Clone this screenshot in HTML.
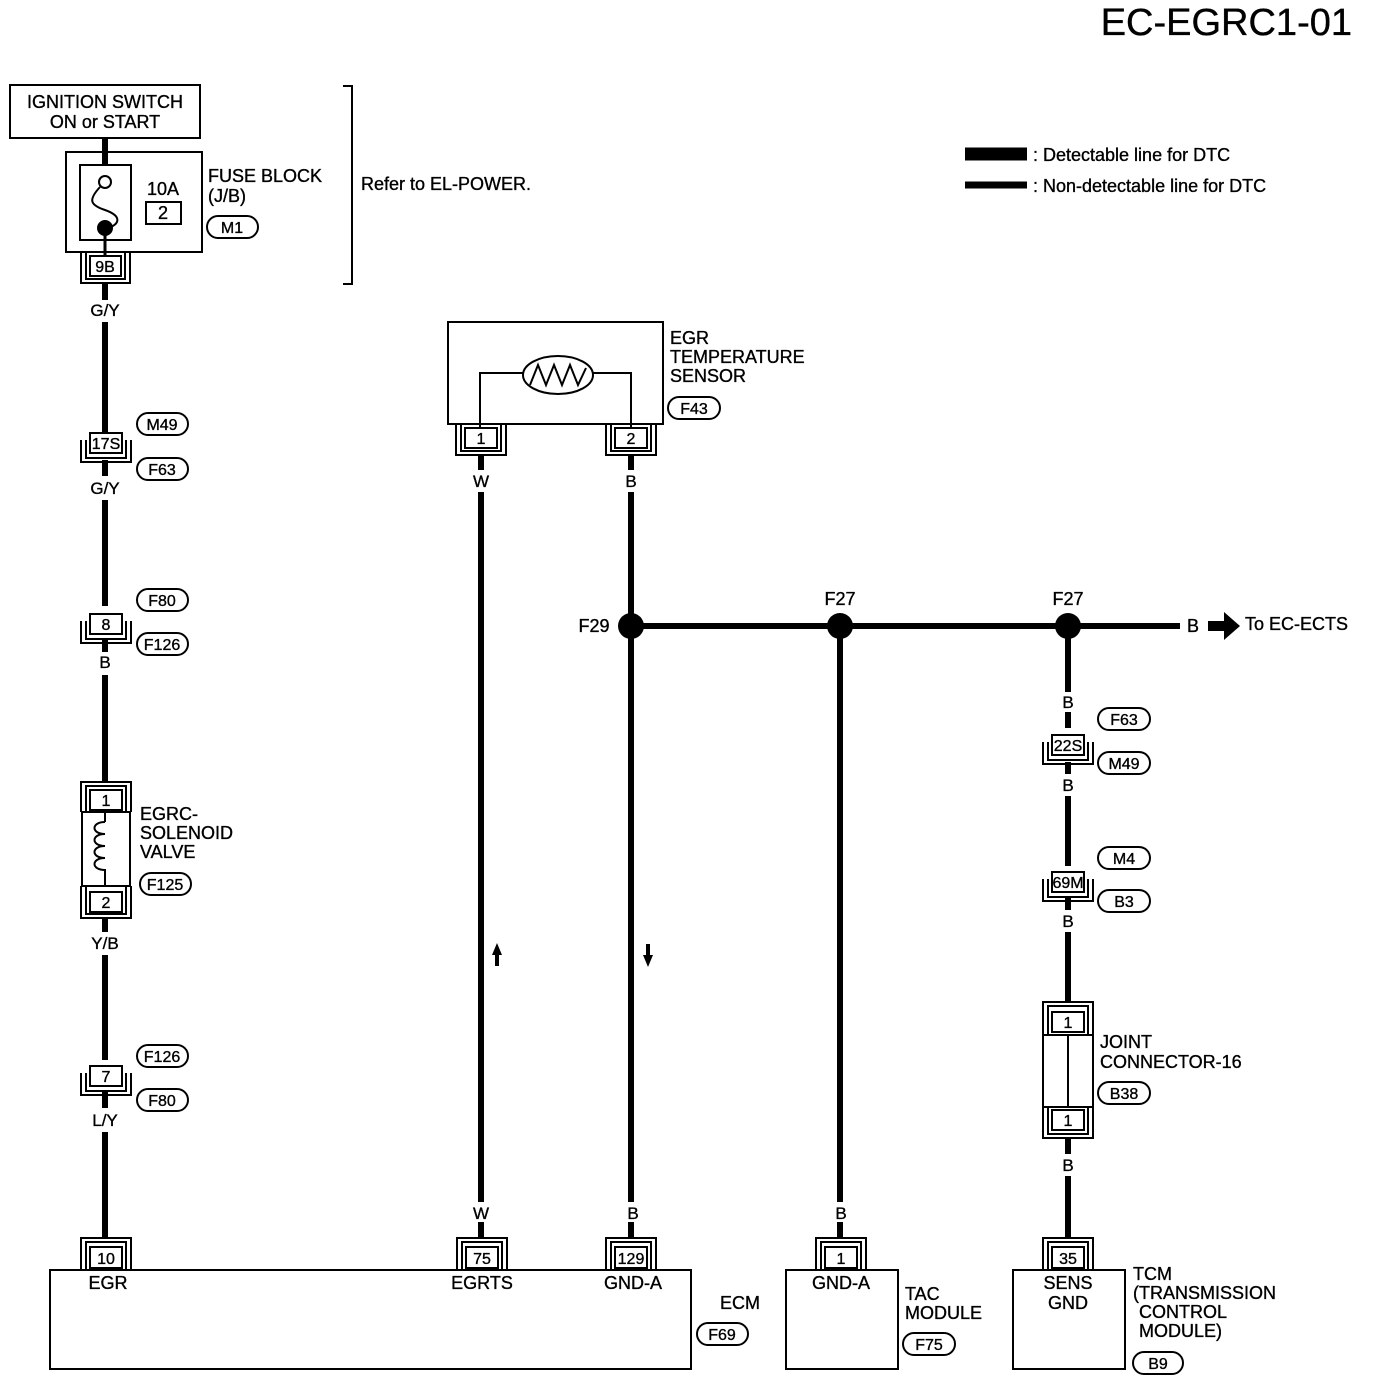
<!DOCTYPE html>
<html><head><meta charset="utf-8"><style>
html,body{margin:0;padding:0;background:#fff}
svg{display:block}
text{font-family:"Liberation Sans",sans-serif;fill:#000;stroke:#000;stroke-width:0.35}
</style></head><body>
<svg width="1376" height="1384" viewBox="0 0 1376 1384" xmlns="http://www.w3.org/2000/svg">
<g fill="none" stroke="#000" stroke-width="2">
<g stroke-width="6">
<line x1="105" y1="138" x2="105" y2="165"/>
<line x1="105" y1="283" x2="105" y2="300"/>
<line x1="105" y1="322" x2="105" y2="433"/>
<line x1="105" y1="460" x2="105" y2="476"/>
<line x1="105" y1="500" x2="105" y2="606"/>
<line x1="105" y1="640" x2="105" y2="652"/>
<line x1="105" y1="675" x2="105" y2="782"/>
<line x1="105" y1="918" x2="105" y2="932"/>
<line x1="105" y1="955" x2="105" y2="1060"/>
<line x1="105" y1="1092" x2="105" y2="1108"/>
<line x1="105" y1="1132" x2="105" y2="1238"/>
<line x1="481" y1="454" x2="481" y2="470"/>
<line x1="481" y1="492" x2="481" y2="1202"/>
<line x1="481" y1="1222" x2="481" y2="1238"/>
<line x1="631" y1="454" x2="631" y2="470"/>
<line x1="631" y1="492" x2="631" y2="1202"/>
<line x1="631" y1="1222" x2="631" y2="1238"/>
<line x1="631" y1="626" x2="1180" y2="626"/>
<line x1="840" y1="626" x2="840" y2="1202"/>
<line x1="840" y1="1222" x2="840" y2="1238"/>
<line x1="1068" y1="626" x2="1068" y2="692"/>
<line x1="1068" y1="712" x2="1068" y2="728"/>
<line x1="1068" y1="762" x2="1068" y2="774"/>
<line x1="1068" y1="796" x2="1068" y2="866"/>
<line x1="1068" y1="898" x2="1068" y2="910"/>
<line x1="1068" y1="932" x2="1068" y2="1002"/>
<line x1="1068" y1="1138" x2="1068" y2="1154"/>
<line x1="1068" y1="1176" x2="1068" y2="1238"/>
</g>
<line x1="965" y1="154" x2="1027" y2="154" stroke-width="13"/>
<line x1="965" y1="185" x2="1027" y2="185" stroke-width="7"/>
<rect x="10" y="85" width="190" height="53"/>
<rect x="66" y="152" width="136" height="100"/>
<rect x="80" y="165" width="51" height="75"/>
<circle cx="105" cy="182" r="6" fill="#fff"/>
<path d="M100,187 C88,200 90,205 105,210 C122,216 120,224 108,228"/>
<circle cx="105" cy="228" r="7" fill="#000"/>
<line x1="105" y1="234" x2="105" y2="256" stroke-width="3"/>
<rect x="146" y="202" width="35" height="22"/>
<path d="M343,86 H352 V284 H343"/>
<rect x="448" y="322" width="215" height="102"/>
<path d="M480,428 V373 H523 M593,373 H631 V428"/>
<ellipse cx="558" cy="375" rx="35" ry="19"/>
<path d="M530,385 L538,365 L546,385 L554,365 L562,385 L570,365 L578,385 L586,368"/>
<rect x="82" y="812" width="48" height="74"/>
<path d="M105,812 V822 M105,878 V886"/>
<path d="M105,822 c-14,0 -14,12 0,12 c-14,0 -14,12 0,12 c-14,0 -14,12 0,12 c-14,0 -14,12 0,12 c0,0 0,6 0,8"/>
<rect x="1043" y="1035" width="50" height="72"/>
<line x1="1068" y1="1035" x2="1068" y2="1107"/>
<rect x="50" y="1270" width="641" height="99"/>
<rect x="786" y="1270" width="112" height="99"/>
<rect x="1013" y="1270" width="112" height="99"/>
<g>
<rect x="90" y="256" width="31" height="20"/><path d="M81,252 V283 H130 V252 M86,252 V279 H125 V252"/>
<rect x="90" y="433" width="32" height="20"/><path d="M81,440 V462 H131 V440 M86,440 V458 H126 V440"/>
<rect x="90" y="614" width="32" height="20"/><path d="M81,621 V643 H131 V621 M86,621 V639 H126 V621"/>
<rect x="90" y="1066" width="32" height="20"/><path d="M81,1073 V1095 H131 V1073 M86,1073 V1091 H126 V1073"/>
<rect x="90" y="892" width="32" height="20"/><path d="M81,886 V918 H131 V886 M86,886 V914 H126 V886"/>
<rect x="465" y="428" width="32" height="20"/><path d="M456,424 V455 H506 V424 M461,424 V451 H501 V424"/>
<rect x="615" y="428" width="32" height="20"/><path d="M606,424 V455 H656 V424 M611,424 V451 H651 V424"/>
<rect x="1052" y="735" width="32" height="20"/><path d="M1043,742 V764 H1093 V742 M1048,742 V760 H1088 V742"/>
<rect x="1052" y="872" width="32" height="20"/><path d="M1043,879 V901 H1093 V879 M1048,879 V897 H1088 V879"/>
<rect x="1052" y="1110" width="32" height="20"/><path d="M1043,1107 V1138 H1093 V1107 M1048,1107 V1134 H1088 V1107"/>
</g>
<g>
<rect x="90" y="790" width="32" height="20"/><path d="M81,812 V782 H131 V812 M86,812 V786 H126 V812"/>
<rect x="1052" y="1012" width="32" height="20"/><path d="M1043,1035 V1002 H1093 V1035 M1048,1035 V1006 H1088 V1035"/>
<rect x="90" y="1247" width="32" height="21"/><path d="M81,1270 V1238 H131 V1270 M86,1270 V1242 H126 V1270"/>
<rect x="466" y="1247" width="32" height="21"/><path d="M457,1270 V1238 H507 V1270 M462,1270 V1242 H502 V1270"/>
<rect x="615" y="1247" width="32" height="21"/><path d="M606,1270 V1238 H656 V1270 M611,1270 V1242 H651 V1270"/>
<rect x="825" y="1247" width="32" height="21"/><path d="M816,1270 V1238 H866 V1270 M821,1270 V1242 H861 V1270"/>
<rect x="1052" y="1247" width="32" height="21"/><path d="M1043,1270 V1238 H1093 V1270 M1048,1270 V1242 H1088 V1270"/>
</g>
<g>
<rect x="207" y="216" width="51" height="22" rx="11"/>
<rect x="137" y="413" width="51" height="22" rx="11"/>
<rect x="137" y="458" width="51" height="22" rx="11"/>
<rect x="137" y="589" width="51" height="22" rx="11"/>
<rect x="137" y="633" width="51" height="22" rx="11"/>
<rect x="140" y="873" width="51" height="22" rx="11"/>
<rect x="137" y="1045" width="51" height="22" rx="11"/>
<rect x="137" y="1089" width="51" height="22" rx="11"/>
<rect x="668" y="397" width="52" height="22" rx="11"/>
<rect x="697" y="1323" width="51" height="22" rx="11"/>
<rect x="903" y="1333" width="52" height="22" rx="11"/>
<rect x="1098" y="708" width="52" height="22" rx="11"/>
<rect x="1098" y="752" width="52" height="22" rx="11"/>
<rect x="1098" y="847" width="52" height="22" rx="11"/>
<rect x="1098" y="890" width="52" height="22" rx="11"/>
<rect x="1098" y="1082" width="52" height="22" rx="11"/>
<rect x="1133" y="1352" width="50" height="22" rx="11"/>
</g>
</g>
<g fill="#000">
<circle cx="631" cy="626" r="13"/>
<circle cx="840" cy="626" r="13"/>
<circle cx="1068" cy="626" r="13"/>
<path d="M1208,621 H1224 V612 L1240,626 L1224,640 V631 H1208 Z"/>
<path d="M497,943 L492,955 H495 V966 H499 V955 H502 Z"/>
<path d="M648,967 L643,955 H646 V944 H650 V955 H653 Z"/>
</g>
<text x="1352" y="35" font-size="38" text-anchor="end">EC-EGRC1-01</text>
<g font-size="18">
<text x="1033" y="161">: Detectable line for DTC</text>
<text x="1033" y="192">: Non-detectable line for DTC</text>
<text x="105" y="108" text-anchor="middle">IGNITION SWITCH</text>
<text x="105" y="128" text-anchor="middle">ON or START</text>
<text x="208" y="182">FUSE BLOCK</text>
<text x="208" y="202">(J/B)</text>
<text x="361" y="190">Refer to EL-POWER.</text>
<text x="163" y="195" text-anchor="middle">10A</text>
<text x="163" y="219" text-anchor="middle">2</text>
<text x="670" y="344">EGR</text>
<text x="670" y="363">TEMPERATURE</text>
<text x="670" y="382">SENSOR</text>
<text x="140" y="820">EGRC-</text>
<text x="140" y="839">SOLENOID</text>
<text x="140" y="858">VALVE</text>
<text x="1100" y="1048">JOINT</text>
<text x="1100" y="1068">CONNECTOR-16</text>
<text x="1193" y="632" text-anchor="middle">B</text>
<text x="1245" y="630">To EC-ECTS</text>
<text x="594" y="632" text-anchor="middle">F29</text>
<text x="840" y="605" text-anchor="middle">F27</text>
<text x="1068" y="605" text-anchor="middle">F27</text>
<text x="108" y="1289" text-anchor="middle">EGR</text>
<text x="482" y="1289" text-anchor="middle">EGRTS</text>
<text x="633" y="1289" text-anchor="middle">GND-A</text>
<text x="720" y="1309">ECM</text>
<text x="841" y="1289" text-anchor="middle">GND-A</text>
<text x="905" y="1300">TAC</text>
<text x="905" y="1319">MODULE</text>
<text x="1068" y="1289" text-anchor="middle">SENS</text>
<text x="1068" y="1309" text-anchor="middle">GND</text>
<text x="1133" y="1280">TCM</text>
<text x="1133" y="1299">(TRANSMISSION</text>
<text x="1139" y="1318">CONTROL</text>
<text x="1139" y="1337">MODULE)</text>
</g>
<g font-size="17" text-anchor="middle">
<text x="105" y="316">G/Y</text>
<text x="105" y="494">G/Y</text>
<text x="105" y="668">B</text>
<text x="105" y="949">Y/B</text>
<text x="105" y="1126">L/Y</text>
<text x="481" y="487">W</text>
<text x="631" y="487">B</text>
<text x="481" y="1219">W</text>
<text x="633" y="1219">B</text>
<text x="841" y="1219">B</text>
<text x="1068" y="708">B</text>
<text x="1068" y="791">B</text>
<text x="1068" y="927">B</text>
<text x="1068" y="1171">B</text>
</g>
<g font-size="16" text-anchor="middle">
<text x="105" y="272">9B</text>
<text x="106" y="449">17S</text>
<text x="106" y="630">8</text>
<text x="106" y="806">1</text>
<text x="106" y="908">2</text>
<text x="106" y="1082">7</text>
<text x="481" y="444">1</text>
<text x="631" y="444">2</text>
<text x="1068" y="751">22S</text>
<text x="1068" y="888">69M</text>
<text x="1068" y="1028">1</text>
<text x="1068" y="1126">1</text>
<text x="106" y="1264">10</text>
<text x="482" y="1264">75</text>
<text x="631" y="1264">129</text>
<text x="841" y="1264">1</text>
<text x="1068" y="1264">35</text>
<text x="232" y="233">M1</text>
<text x="162" y="430">M49</text>
<text x="162" y="475">F63</text>
<text x="162" y="606">F80</text>
<text x="162" y="650">F126</text>
<text x="165" y="890">F125</text>
<text x="162" y="1062">F126</text>
<text x="162" y="1106">F80</text>
<text x="694" y="414">F43</text>
<text x="722" y="1340">F69</text>
<text x="929" y="1350">F75</text>
<text x="1124" y="725">F63</text>
<text x="1124" y="769">M49</text>
<text x="1124" y="864">M4</text>
<text x="1124" y="907">B3</text>
<text x="1124" y="1099">B38</text>
<text x="1158" y="1369">B9</text>
</g>
</svg>
</body></html>
